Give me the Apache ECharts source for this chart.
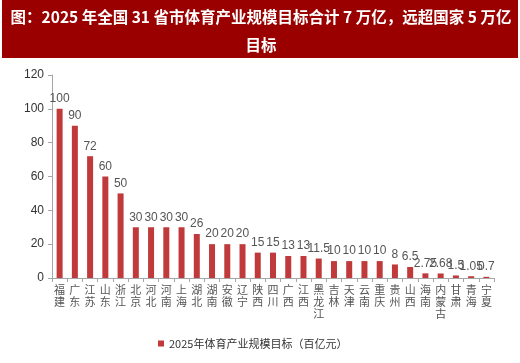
<!DOCTYPE html>
<html><head><meta charset="utf-8">
<script src="https://cdn.jsdelivr.net/npm/echarts@6/dist/echarts.min.js"></script>
<style>html,body{margin:0;padding:0;background:#fff}#c{width:520px;height:363px}</style>
</head><body><div id="c"></div>
<script>
const titleLine1 = '图：2025 年全国 31 省市体育产业规模目标合计 7 万亿，远超国家 5 万亿';
const titleLine2 = '目标';
const categories = ['福建','广东','江苏','山东','浙江','北京','河北','河南','上海','湖北','湖南','安徽','辽宁','陕西','四川','广西','江西','黑龙江','吉林','天津','云南','重庆','贵州','山西','海南','内蒙古','甘肃','青海','宁夏'];
const values = [100,90,72,60,50,30,30,30,30,26,20,20,20,15,15,13,13,11.5,10,10,10,10,8,6.5,2.75,2.68,1.5,1.05,0.7];
const seriesName = '2025年体育产业规模目标（百亿元）';
const yTicks = [0,20,40,60,80,100,120];

const titleStyle = {fill:'#fff', fontSize:15.5, fontWeight:'bold', fontFamily:'Noto Sans CJK SC', align:'center', verticalAlign:'middle'};
const chart = echarts.init(document.getElementById('c'));
chart.setOption({
  animation: false,
  backgroundColor: '#fff',
  graphic: [
    {type:'rect', shape:{x:2,y:0,width:516,height:58}, style:{fill:'#9a0000'}, z:-1},
    {type:'text', x:261, y:17, style:Object.assign({text:titleLine1}, titleStyle)},
    {type:'text', x:261, y:45, style:Object.assign({text:titleLine2}, titleStyle)}
  ],
  legend: {
    data:[seriesName], left:153, top:333, itemWidth:6, itemHeight:6, itemGap:4,
    icon:'rect',
    textStyle:{fontSize:11, color:'#333', fontFamily:'Noto Sans CJK SC'}
  },
  grid: {left:52, right:26, top:75, bottom:85, containLabel:false},
  xAxis: {
    type:'category', data:categories,
    axisLine:{lineStyle:{color:'#a6a6a6'}},
    axisTick:{show:true, length:4, lineStyle:{color:'#a6a6a6'}},
    axisLabel:{interval:0, color:'#555', fontSize:11, lineHeight:12, fontFamily:'Noto Sans CJK SC', margin:6,
      formatter: v => v.split('').join('\n')}
  },
  yAxis: {
    type:'value', min:yTicks[0], max:yTicks[yTicks.length-1], interval:20,
    splitLine:{show:false},
    axisLine:{show:true, lineStyle:{color:'#a6a6a6'}},
    axisTick:{show:true, length:4, lineStyle:{color:'#a6a6a6'}},
    axisLabel:{color:'#333', fontSize:12, fontFamily:'Arial', margin:8}
  },
  series: [{
    name: seriesName, type:'bar', data: values, barWidth:6,
    itemStyle:{color:'#c0393b'},
    label:{show:true, position:'top', color:'#555', fontSize:12, fontFamily:'Arial', distance:4}
  }]
});
</script></body></html>
